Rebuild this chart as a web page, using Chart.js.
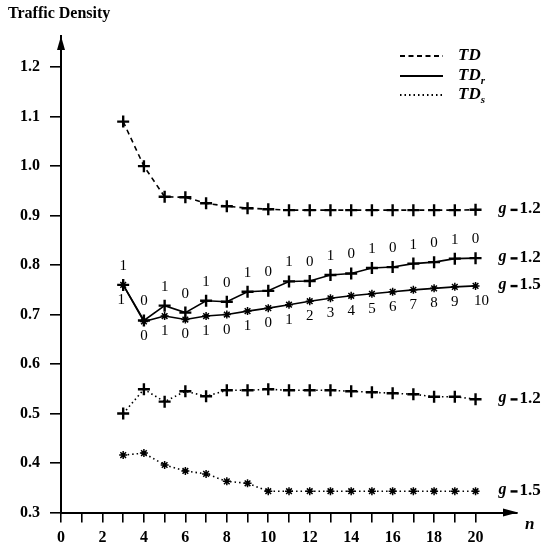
<!DOCTYPE html>
<html>
<head>
<meta charset="utf-8">
<title>Traffic Density</title>
<script src="https://cdn.jsdelivr.net/npm/chart.js@4.4.1/dist/chart.umd.min.js"></script>
<style>
  html, body { margin: 0; padding: 0; background: #fff; }
  #wrap { width: 551px; height: 549px; }
</style>
</head>
<body>
<div id="wrap"><canvas id="c" width="551" height="549"></canvas></div>
<script>
// Number of nodes n
const nValues = [3, 4, 5, 6, 7, 8, 9, 10, 11, 12, 13, 14, 15, 16, 17, 18, 19, 20];

// TD, g = 1.2
const tdG12 = [1.09, 1.00, 0.938, 0.937, 0.925, 0.919, 0.915, 0.913, 0.911, 0.911, 0.911, 0.911, 0.911, 0.911, 0.911, 0.911, 0.911, 0.912];
// TD_r, g = 1.2
const tdrG12 = [0.760, 0.688, 0.718, 0.704, 0.728, 0.726, 0.746, 0.748, 0.767, 0.768, 0.780, 0.783, 0.794, 0.796, 0.803, 0.806, 0.813, 0.814];
// TD_r, g = 1.5
const tdrG15 = [0.760, 0.686, 0.697, 0.690, 0.697, 0.700, 0.707, 0.713, 0.720, 0.727, 0.733, 0.738, 0.742, 0.746, 0.750, 0.753, 0.756, 0.758];
// TD_s, g = 1.2
const tdsG12 = [0.500, 0.549, 0.524, 0.545, 0.535, 0.547, 0.547, 0.549, 0.547, 0.547, 0.547, 0.545, 0.543, 0.541, 0.539, 0.534, 0.534, 0.529];
// TD_s, g = 1.5
const tdsG15 = [0.416, 0.420, 0.396, 0.384, 0.378, 0.363, 0.359, 0.343, 0.343, 0.343, 0.343, 0.343, 0.343, 0.343, 0.343, 0.343, 0.343, 0.343];

// Digits written along the two TD_r curves
const upperDigits = ['1', '0', '1', '0', '1', '0', '1', '0', '1', '0', '1', '0', '1', '0', '1', '0', '1', '0'];
const lowerDigits = ['1', '0', '1', '0', '1', '0', '1', '0', '1', '2', '3', '4', '5', '6', '7', '8', '9', '10'];

// Axis ticks
const xTicks = [0, 1, 2, 3, 4, 5, 6, 7, 8, 9, 10, 11, 12, 13, 14, 15, 16, 17, 18, 19, 20];
const yTicks = [0.3, 0.4, 0.5, 0.6, 0.7, 0.8, 0.9, 1.0, 1.1, 1.2];

// Curve-end labels: [series, g value]
const endLabels = [
  [tdG12, '1.2'],
  [tdrG12, '1.2'],
  [tdrG15, '1.5'],
  [tdsG12, '1.2'],
  [tdsG15, '1.5']
];

const SERIF = '"Liberation Serif", "DejaVu Serif", serif';

const toPoints = vals => nValues.map((n, i) => ({ x: n, y: vals[i] }));

function series(vals, dash, style, radius, bw) {
  return {
    data: toPoints(vals),
    borderColor: '#000',
    backgroundColor: '#000',
    borderWidth: 1.6,
    borderDash: dash,
    pointStyle: style,
    pointRadius: radius,
    pointBorderColor: '#000',
    pointBorderWidth: bw,
    pointHoverRadius: radius,
    tension: 0,
    fill: false
  };
}

const decorations = {
  id: 'decorations',
  afterDraw(chart) {
    const { ctx, chartArea: a, scales: { x, y } } = chart;
    ctx.save();
    ctx.fillStyle = '#000';
    ctx.strokeStyle = '#000';

    // arrowheads on both axes
    ctx.beginPath();
    ctx.moveTo(a.left, a.top);
    ctx.lineTo(a.left - 4, a.top + 14);
    ctx.lineTo(a.left + 4, a.top + 14);
    ctx.closePath();
    ctx.fill();
    ctx.beginPath();
    ctx.moveTo(a.right + 1, a.bottom);
    ctx.lineTo(a.right - 14, a.bottom - 4);
    ctx.lineTo(a.right - 14, a.bottom + 4);
    ctx.closePath();
    ctx.fill();

    // axis titles
    ctx.font = 'bold 16px ' + SERIF;
    ctx.textAlign = 'left';
    ctx.textBaseline = 'middle';
    ctx.fillText('Traffic Density', 8, 14);
    ctx.font = 'italic bold 17px ' + SERIF;
    ctx.fillText('n', a.right + 8, 525);

    // digits along the TD_r curves
    ctx.font = '15px ' + SERIF;
    ctx.textAlign = 'center';
    nValues.forEach((n, i) => {
      const px = x.getPixelForValue(n);
      ctx.fillText(upperDigits[i], px, y.getPixelForValue(tdrG12[i]) - 19);
      const dx = lowerDigits[i].length > 1 ? 6 : (i === 0 ? -2 : 0);
      ctx.fillText(lowerDigits[i], px + dx, y.getPixelForValue(tdrG15[i]) + 15);
    });

    // g labels at the right end of each curve
    const last = nValues.length - 1;
    const gx = x.getPixelForValue(nValues[last]) + 23;
    endLabels.forEach(([vals, g]) => {
      const py = y.getPixelForValue(vals[last]);
      ctx.textAlign = 'left';
      ctx.font = 'italic bold 16px ' + SERIF;
      ctx.fillText('g', gx, py - 1);
      ctx.fillRect(gx + 12, py - 1, 7, 2.4);
      ctx.font = 'bold 17px ' + SERIF;
      ctx.fillText(g, gx + 21, py - 1);
    });

    // legend
    const legend = [
      { dash: [5, 3.5], label: 'TD', sub: '', y: 56 },
      { dash: [], label: 'TD', sub: 'r', y: 76 },
      { dash: [1.5, 3], label: 'TD', sub: 's', y: 95 }
    ];
    legend.forEach(item => {
      ctx.beginPath();
      ctx.setLineDash(item.dash);
      ctx.lineWidth = 1.8;
      ctx.moveTo(400, item.y);
      ctx.lineTo(443, item.y);
      ctx.stroke();
      ctx.setLineDash([]);
      ctx.textAlign = 'left';
      ctx.font = 'italic bold 17px ' + SERIF;
      ctx.fillText(item.label, 458, item.y);
      if (item.sub) {
        const w = ctx.measureText(item.label).width;
        ctx.font = 'italic bold 11px ' + SERIF;
        ctx.fillText(item.sub, 458 + w, item.y + 5);
      }
    });
    ctx.restore();
  }
};

new Chart(document.getElementById('c'), {
  type: 'line',
  data: {
    datasets: [
      series(tdG12, [5, 4], 'cross', 6, 2.4),
      series(tdrG12, [], 'cross', 6, 2.4),
      series(tdrG15, [], 'star', 4, 1.5),
      series(tdsG12, [1.5, 3], 'cross', 6, 2.4),
      series(tdsG15, [1.5, 3], 'star', 4, 1.5)
    ]
  },
  options: {
    responsive: false,
    devicePixelRatio: 1,
    animation: false,
    events: [],
    layout: { padding: { top: 36, right: 34, left: 0, bottom: 0 } },
    plugins: { legend: { display: false }, tooltip: { enabled: false }, title: { display: false } },
    scales: {
      x: {
        type: 'linear',
        min: 0,
        max: 22,
        afterBuildTicks: s => { s.ticks = xTicks.map(v => ({ value: v })); },
        afterFit: s => { s.height = 36.5; },
        grid: { display: true, drawOnChartArea: false, drawTicks: true, tickLength: 10, color: '#000', lineWidth: 1.6 },
        border: { display: true, color: '#000', width: 2 },
        ticks: {
          autoSkip: false,
          maxRotation: 0,
          padding: 6,
          color: '#000',
          font: { family: SERIF, size: 16, weight: 'bold' },
          callback: v => (v % 2 === 0 ? String(v) : '')
        }
      },
      y: {
        type: 'linear',
        min: 0.3,
        max: 1.263,
        afterBuildTicks: s => { s.ticks = yTicks.map(v => ({ value: v })); },
        afterFit: s => { s.width = 61; },
        grid: { display: true, drawOnChartArea: false, drawTicks: true, tickLength: 11, color: '#000', lineWidth: 1.6 },
        border: { display: true, color: '#000', width: 2 },
        ticks: {
          autoSkip: false,
          padding: 10,
          color: '#000',
          font: { family: SERIF, size: 16, weight: 'bold' },
          callback: v => v.toFixed(1)
        }
      }
    }
  },
  plugins: [decorations]
});
</script>
</body>
</html>
